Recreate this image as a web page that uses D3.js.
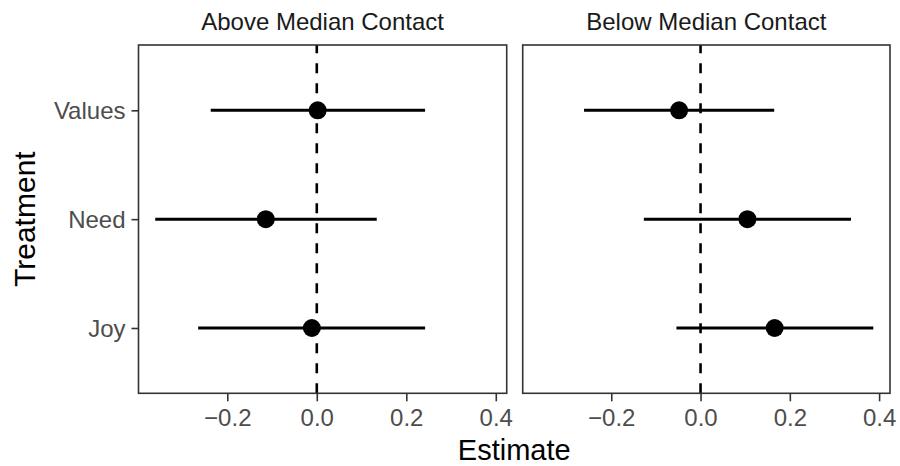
<!DOCTYPE html>
<html>
<head>
<meta charset="utf-8">
<script src="https://cdn.jsdelivr.net/npm/d3@7"></script>
<style>
  html, body { margin: 0; padding: 0; background: #fff; }
  svg { display: block; font-family: "Liberation Sans", Arial, Helvetica, sans-serif; }
</style>
</head>
<body>
<svg id="chart" width="900" height="466"></svg>
<script>
// ---- data ----
const panels = ["Above Median Contact", "Below Median Contact"];
const treatments = ["Values", "Need", "Joy"];
const xTicks = [-0.2, 0.0, 0.2, 0.4];
// estimates and 95% CI per panel, in order of treatments
const estAbove = [0.002, -0.114, -0.011];
const lowAbove = [-0.237, -0.361, -0.265];
const highAbove = [0.242, 0.134, 0.242];
const estBelow = [-0.048, 0.105, 0.166];
const lowBelow = [-0.261, -0.127, -0.054];
const highBelow = [0.165, 0.337, 0.387];

const panelData = [
  treatments.map((t, i) => ({ t, est: estAbove[i], lo: lowAbove[i], hi: highAbove[i] })),
  treatments.map((t, i) => ({ t, est: estBelow[i], lo: lowBelow[i], hi: highBelow[i] }))
];

// ---- layout ----
const svg = d3.select("#chart");
const pTop = 45, pBottom = 393.3;
const panelX = [[138.5, 506.7], [522.7, 890]];

const allVals = lowAbove.concat(lowBelow, highAbove, highBelow);
const vMin = d3.min(allVals), vMax = d3.max(allVals);
const pad = (vMax - vMin) * 0.05;

const y = d3.scalePoint().domain(treatments).range([pTop, pBottom]).padding(0.6);

panelData.forEach((rows, p) => {
  const [x0, x1] = panelX[p];
  const x = d3.scaleLinear().domain([vMin - pad, vMax + pad]).range([x0, x1]);
  const g = svg.append("g");

  // zero reference line
  g.append("line")
    .attr("x1", x(0)).attr("x2", x(0))
    .attr("y1", pBottom).attr("y2", pTop)
    .attr("stroke", "#000").attr("stroke-width", 2.6)
    .attr("stroke-dasharray", "10,10");

  // error bars
  g.selectAll("line.err").data(rows).join("line")
    .attr("class", "err")
    .attr("x1", d => x(d.lo)).attr("x2", d => x(d.hi))
    .attr("y1", d => y(d.t)).attr("y2", d => y(d.t))
    .attr("stroke", "#000").attr("stroke-width", 3);

  // points
  g.selectAll("circle").data(rows).join("circle")
    .attr("cx", d => x(d.est)).attr("cy", d => y(d.t))
    .attr("r", 9).attr("fill", "#000");

  // panel border
  g.append("rect")
    .attr("x", x0).attr("y", pTop)
    .attr("width", x1 - x0).attr("height", pBottom - pTop)
    .attr("fill", "none").attr("stroke", "#333333").attr("stroke-width", 1.6);

  // x axis
  const xa = g.append("g").attr("transform", `translate(0,${pBottom})`)
    .call(d3.axisBottom(x).tickValues(xTicks).tickFormat(d3.format(".1f")).tickSizeInner(8).tickSizeOuter(0).tickPadding(8));
  xa.select(".domain").remove();
  xa.selectAll(".tick line").attr("stroke", "#333333").attr("stroke-width", 1.6);
  xa.selectAll(".tick text").attr("fill", "#4d4d4d").attr("font-size", 24);

  // y axis (left panel only)
  if (p === 0) {
    const ya = g.append("g").attr("transform", `translate(${x0},0)`)
      .call(d3.axisLeft(y).tickSizeInner(7).tickSizeOuter(0).tickPadding(6));
    ya.select(".domain").remove();
    ya.selectAll(".tick line").attr("stroke", "#333333").attr("stroke-width", 1.6);
    ya.selectAll(".tick text").attr("fill", "#4d4d4d").attr("font-size", 24)
      .attr("dy", "0.35em");
  }

  // strip title
  svg.append("text")
    .attr("x", (x0 + x1) / 2).attr("y", 29.5)
    .attr("text-anchor", "middle")
    .attr("font-size", 24).attr("fill", "#1a1a1a")
    .text(panels[p]);
});

// axis titles
svg.append("text")
  .attr("x", (panelX[0][0] + panelX[1][1]) / 2).attr("y", 460)
  .attr("text-anchor", "middle").attr("font-size", 29).attr("fill", "#000")
  .text("Estimate");

svg.append("text")
  .attr("transform", `translate(35,${(pTop + pBottom) / 2}) rotate(-90)`)
  .attr("text-anchor", "middle").attr("font-size", 30).attr("fill", "#000")
  .text("Treatment");
</script>
</body>
</html>
